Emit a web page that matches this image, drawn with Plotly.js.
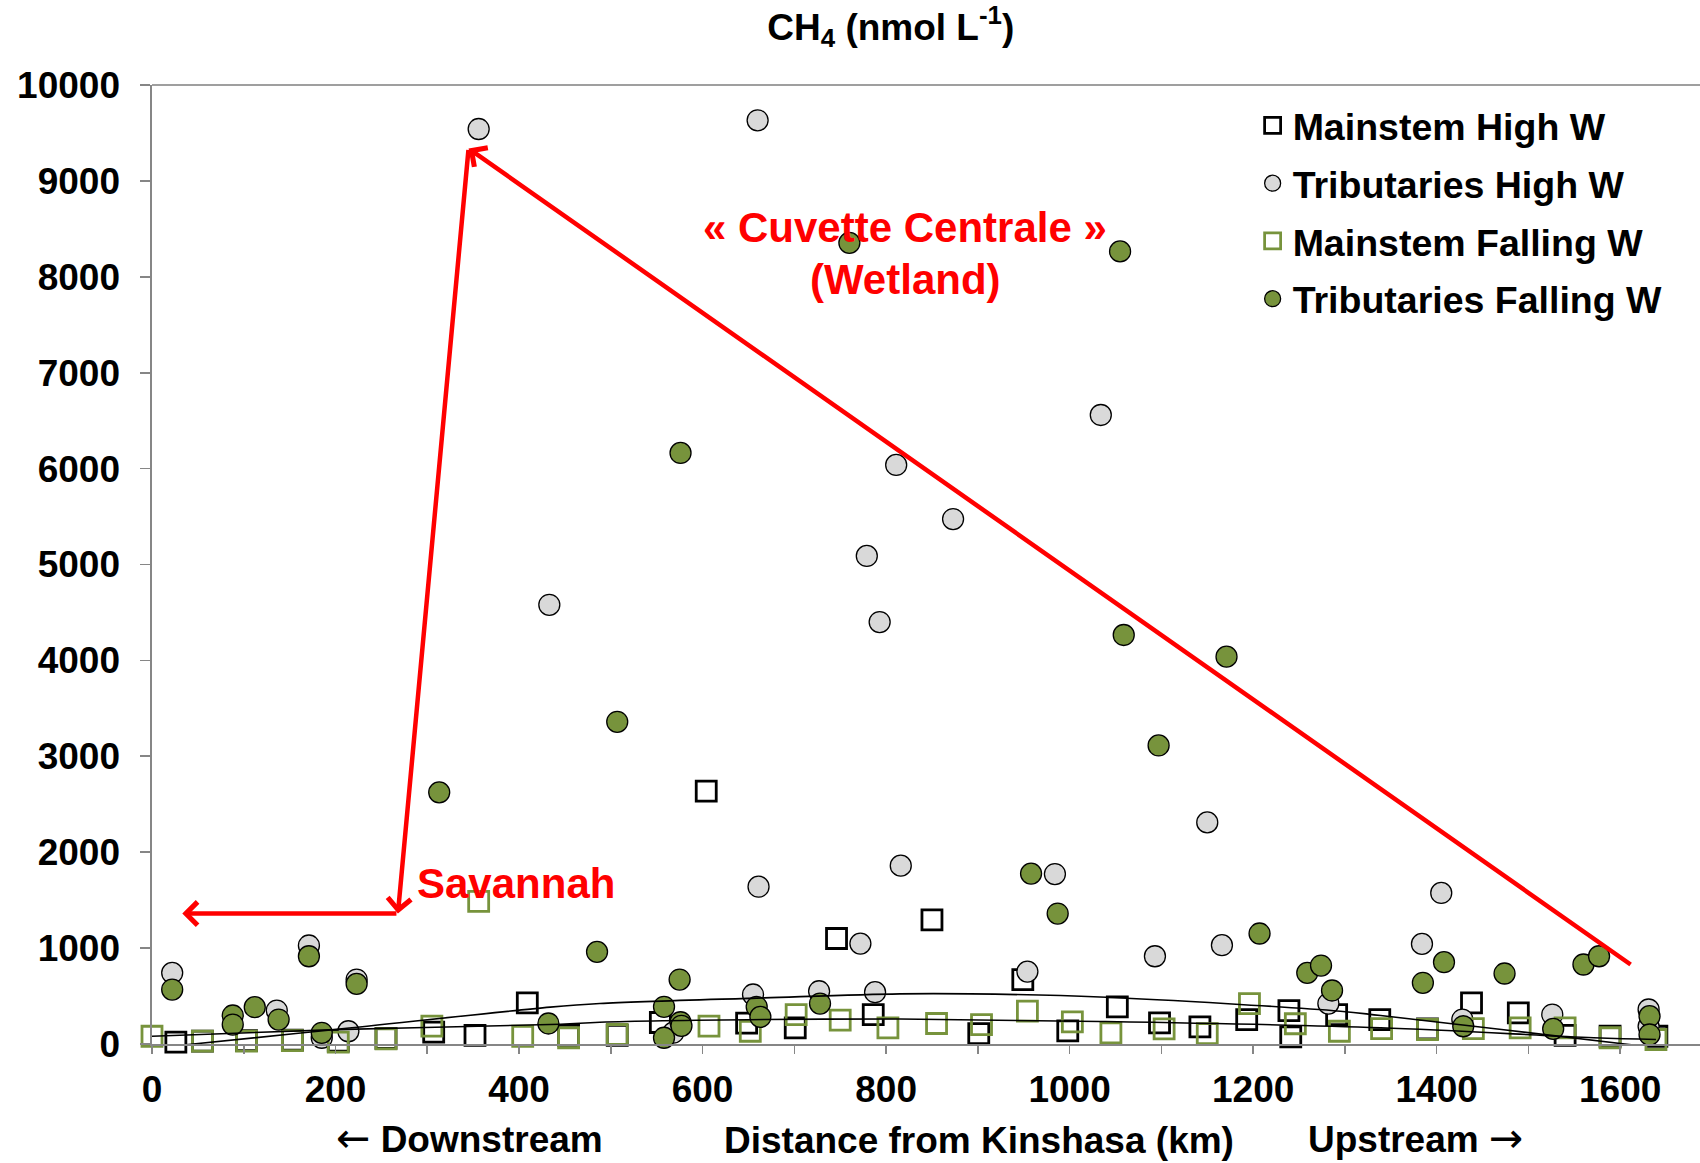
<!DOCTYPE html>
<html>
<head>
<meta charset="utf-8">
<script src="https://cdn.plot.ly/plotly-3.0.1.min.js"></script>
<style>
  html, body { margin: 0; padding: 0; background: #fff; }
  #chart { width: 1700px; height: 1163px; }
</style>
</head>
<body>
<div id="chart"></div>
<script>
// ---------- DATA ----------
// Mainstem High W (black open squares)
const mainHighX = [26, 55, 103, 153, 203, 255, 307, 352, 409, 454, 507, 554, 604, 648, 701, 746, 786, 850, 901, 949, 998, 1052, 1098, 1142, 1193, 1239, 1241, 1291, 1338, 1390, 1438, 1489, 1540, 1589, 1640];
const mainHighY = [19, 30, 36, 40, 30, 58, 123, 89, 429, 89, 89, 224, 2637, 218, 169, 1100, 307, 1295, 109, 672, 137, 388, 221, 179, 255, 349, 75, 307, 255, 158, 429, 325, 89, 81, 81];

// Tributaries High W (light grey circles)
const tribHighX = [22, 136, 171, 185, 214, 223, 356, 433, 568, 655, 660, 661, 727, 772, 779, 788, 793, 811, 816, 873, 954, 984, 1034, 1093, 1150, 1166, 1282, 1384, 1405, 1428, 1526, 1631, 1631];
const tribHighY = [742, 349, 1027, 65, 133, 672, 9541, 4580, 118, 516, 9632, 1640, 550, 1047, 5089, 540, 4400, 6038, 1860, 5474, 755, 1772, 6559, 915, 2311, 1030, 422, 1044, 1575, 255, 307, 360, 185];

// Mainstem Falling W (green open squares)
const mainFallX = [0, 55, 103, 153, 203, 255, 305, 356, 404, 454, 507, 607, 652, 702, 750, 802, 855, 904, 954, 1003, 1045, 1103, 1150, 1196, 1246, 1294, 1340, 1390, 1440, 1491, 1540, 1589, 1639];
const mainFallY = [81, 29, 29, 36, 19, 54, 186, 1488, 81, 65, 99, 186, 133, 307, 248, 169, 214, 203, 342, 231, 117, 158, 109, 422, 211, 133, 161, 151, 161, 169, 169, 65, 47];

// Tributaries Falling W (green filled circles)
const tribFallX = [22, 88, 88, 112, 138, 171, 185, 223, 313, 432, 485, 507, 558, 558, 576, 575, 576, 577, 659, 663, 728, 760, 958, 987, 1055, 1059, 1097, 1171, 1207, 1259, 1274, 1286, 1385, 1408, 1429, 1474, 1527, 1560, 1577, 1632, 1632];
const tribFallY = [568, 297, 203, 384, 255, 915, 117, 627, 2624, 214, 961, 3360, 388, 65, 6163, 672, 227, 190, 388, 283, 422, 8354, 1777, 1360, 8265, 4265, 3113, 4039, 1152, 742, 818, 558, 638, 853, 185, 735, 158, 829, 915, 290, 99];

// Trend curves
const trendHighX = [26, 45, 200, 434, 488, 667, 815, 892, 1033, 1295, 1339, 1605, 1640];
const trendHighY = [-20, 0, 151, 384, 422, 481, 523, 523, 490, 342, 297, 0, -40];
const trendFallX = [0, 200, 445, 488, 667, 815, 1033, 1339, 1571, 1639];
const trendFallY = [81, 150, 206, 227, 255, 260, 235, 169, 65, 47];

// Axis ticks
const xTickVals = [0, 200, 400, 600, 800, 1000, 1200, 1400, 1600];
const xTickText = ['0', '200', '400', '600', '800', '1000', '1200', '1400', '1600'];
const yTickVals = [0, 1000, 2000, 3000, 4000, 5000, 6000, 7000, 8000, 9000, 10000];
const yTickText = ['0', '1000', '2000', '3000', '4000', '5000', '6000', '7000', '8000', '9000', '10000'];

// Red arrows (data coordinates): head and tail
const arrowHeadX = [345, 268, 33];
const arrowHeadY = [9338, 1360, 1360];
const arrowTailX = [1613, 345, 268];
const arrowTailY = [818, 9338, 1360];

// ---------- STYLE ----------
const FONT = 'Arial, "Liberation Sans", Helvetica, sans-serif';
const GREEN = '#77933c';
const GREY = '#d9d9d9';
const AXIS = '#868686';

const traces = [
  { name: 'Mainstem High W', x: mainHighX, y: mainHighY, type: 'scatter', mode: 'markers',
    legendgroup: 'g1', cliponaxis: false,
    marker: { symbol: 'square-open', size: 20, color: '#000000', line: { width: 2.8, color: '#000000' } } },
  { name: 'Tributaries High W', x: tribHighX, y: tribHighY, type: 'scatter', mode: 'markers',
    legendgroup: 'g2', cliponaxis: false,
    marker: { symbol: 'circle', size: 21, color: GREY, line: { width: 1.3, color: '#000000' } } },
  { name: 'Mainstem Falling W', x: mainFallX, y: mainFallY, type: 'scatter', mode: 'markers',
    legendgroup: 'g3', cliponaxis: false,
    marker: { symbol: 'square-open', size: 20, color: GREEN, line: { width: 2.8, color: GREEN } } },
  { name: 'Tributaries Falling W', x: tribFallX, y: tribFallY, type: 'scatter', mode: 'markers',
    legendgroup: 'g4', cliponaxis: false,
    marker: { symbol: 'circle', size: 21, color: GREEN, line: { width: 1.3, color: '#000000' } } },
  { x: trendHighX, y: trendHighY, type: 'scatter', mode: 'lines', showlegend: false, hoverinfo: 'skip',
    line: { color: '#000000', width: 1.6, shape: 'spline', smoothing: 1 } },
  { x: trendFallX, y: trendFallY, type: 'scatter', mode: 'lines', showlegend: false, hoverinfo: 'skip',
    line: { color: '#000000', width: 1.6, shape: 'spline', smoothing: 1 } }
];

const annotations = [];
for (let i = 0; i < arrowHeadX.length; i++) {
  annotations.push({
    x: arrowHeadX[i], y: arrowHeadY[i], xref: 'x', yref: 'y',
    ax: arrowTailX[i], ay: arrowTailY[i], axref: 'x', ayref: 'y',
    text: '', showarrow: true, arrowhead: 4, arrowsize: 1, arrowwidth: 4.5,
    arrowcolor: '#ff0000', standoff: 0, startstandoff: 0
  });
}
const redFont = { family: FONT, size: 42, color: '#ff0000', weight: 'bold' };
annotations.push(
  { x: 821, y: 8510, xref: 'x', yref: 'y', text: '« Cuvette Centrale »', showarrow: false, font: redFont, xanchor: 'center', yanchor: 'middle' },
  { x: 821, y: 7968, xref: 'x', yref: 'y', text: '(Wetland)', showarrow: false, font: redFont, xanchor: 'center', yanchor: 'middle' },
  { x: 397, y: 1677, xref: 'x', yref: 'y', text: 'Savannah', showarrow: false, font: redFont, xanchor: 'center', yanchor: 'middle' }
);
const axFont = { family: FONT, size: 37, color: '#000000', weight: 'bold' };
const ARW = '<span style="font-family:\'DejaVu Sans\';font-weight:normal;font-size:41px">';
annotations.push(
  { x: 346, y: -0.0985, xref: 'x', yref: 'paper', text: ARW + '←</span> Downstream', showarrow: false, font: axFont, xanchor: 'center', yanchor: 'middle' },
  { x: 901, y: -0.1006, xref: 'x', yref: 'paper', text: 'Distance from Kinshasa (km)', showarrow: false, font: axFont, xanchor: 'center', yanchor: 'middle' },
  { x: 1377, y: -0.0985, xref: 'x', yref: 'paper', text: 'Upstream ' + ARW + '→</span>', showarrow: false, font: axFont, xanchor: 'center', yanchor: 'middle' }
);

const layout = {
  width: 1700, height: 1163,
  margin: { l: 152, r: 0, t: 85, b: 119, pad: 0 },
  paper_bgcolor: '#ffffff', plot_bgcolor: '#ffffff',
  font: { family: FONT, color: '#000000' },
  title: {
    text: 'CH<sub>4</sub> (nmol L<sup>-1</sup>)',
    font: { family: FONT, size: 37, color: '#000000', weight: 'bold' },
    x: 0.524, xref: 'container', xanchor: 'center',
    y: 0.977, yref: 'container', yanchor: 'middle'
  },
  xaxis: {
    range: [0, 1687], tickmode: 'array', tickvals: xTickVals, ticktext: xTickText,
    showgrid: false, zeroline: false,
    showline: true, linecolor: AXIS, linewidth: 1.6,
    ticks: 'outside', ticklen: 8, tickwidth: 1.6, tickcolor: AXIS,
    minor: { dtick: 100, tick0: 0, ticks: 'outside', ticklen: 8, tickwidth: 1.6, tickcolor: AXIS, showgrid: false },
    tickfont: axFont, ticklabelstandoff: 4
  },
  yaxis: {
    range: [0, 10000], tickmode: 'array', tickvals: yTickVals, ticktext: yTickText,
    showgrid: false, zeroline: false,
    showline: true, linecolor: AXIS, linewidth: 1.6,
    ticks: 'outside', ticklen: 10, tickwidth: 1.6, tickcolor: AXIS,
    tickfont: axFont, ticklabelstandoff: 13
  },
  legend: {
    x: 0.711, xanchor: 'left', y: 0.99, yanchor: 'top',
    font: { family: FONT, size: 37.5, color: '#000000', weight: 'bold' },
    bgcolor: 'rgba(0,0,0,0)', traceorder: 'grouped', tracegroupgap: 6
  },
  shapes: [
    { type: 'line', xref: 'paper', yref: 'paper', x0: 0, x1: 1, y0: 1, y1: 1,
      line: { color: '#7f7f7f', width: 1.6 } }
  ],
  annotations: annotations,
  showlegend: true
};

Plotly.newPlot('chart', traces, layout, { displayModeBar: false, staticPlot: true });
</script>
</body>
</html>
